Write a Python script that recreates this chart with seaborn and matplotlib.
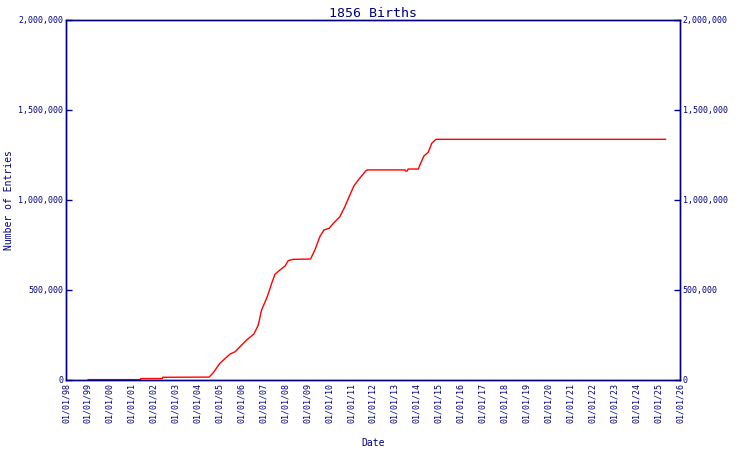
import pandas as pd
import matplotlib
matplotlib.use("Agg")
import matplotlib.pyplot as plt
import matplotlib.dates as mdates
import matplotlib.ticker as mticker
import seaborn as sns

# cumulative entries
dates = [
    "1999-01-01", "2001-05-25", "2001-06-01", "2002-05-25", "2002-06-01",
    "2004-07-12", "2004-09-20", "2005-01-08", "2005-06-25", "2005-09-17",
    "2006-03-28", "2006-07-27", "2006-10-08", "2006-12-02", "2007-03-08",
    "2007-05-20", "2007-07-13", "2007-10-05", "2007-12-28", "2008-02-20",
    "2008-05-05", "2009-02-25", "2009-05-08", "2009-07-30", "2009-10-05",
    "2010-01-01", "2010-03-12", "2010-06-28", "2010-09-20", "2010-12-12",
    "2011-02-17", "2011-05-01", "2011-09-06", "2011-10-01", "2013-06-18",
    "2013-06-25", "2013-07-25", "2013-08-08", "2014-01-26", "2014-02-20",
    "2014-04-27", "2014-07-09", "2014-09-06", "2014-11-14", "2025-05-08",
]
entries = [
    2000, 2000, 8000, 8000, 15000,
    16000, 41000, 93000, 144000, 157000,
    222000, 255000, 305000, 389000, 463000,
    537000, 587000, 611000, 633000, 663000,
    670000, 672000, 722000, 796000, 833000,
    843000, 870000, 907000, 963000, 1028000,
    1078000, 1111000, 1163000, 1167000, 1167000,
    1161000, 1161000, 1172000, 1172000, 1194000,
    1244000, 1265000, 1315000, 1337000, 1337000,
]
y_ticks = [0, 500000, 1000000, 1500000, 2000000]
tick_years = list(range(1998, 2027))

NAVY = "#000080"
FONT = "DejaVu Sans Mono"

df = pd.DataFrame({"date": pd.to_datetime(dates), "entries": entries})

sns.set_style("white")
plt.rcParams["font.family"] = [FONT]

fig = plt.figure(figsize=(7.5, 4.5), dpi=100)
ax = fig.add_axes([0.088, 0.1556, 0.8187, 0.8])

sns.lineplot(data=df, x="date", y="entries", ax=ax, color="#ff0000", linewidth=1)

ax.set_xlim(pd.Timestamp("1998-01-01"), pd.Timestamp("2026-01-01"))
ax.set_ylim(0, 2000000)
ax.set_xticks([pd.Timestamp(f"{y}-01-01") for y in tick_years])
ax.xaxis.set_major_formatter(mdates.DateFormatter("%m/%d/%y"))
ax.set_yticks(y_ticks)
ax.yaxis.set_major_formatter(mticker.FuncFormatter(lambda v, p: f"{int(v):,}"))

ax2 = ax.twinx()
ax2.set_ylim(ax.get_ylim())
ax2.set_yticks(y_ticks)
ax2.yaxis.set_major_formatter(mticker.FuncFormatter(lambda v, p: f"{int(v):,}"))

for a in (ax, ax2):
    for s in a.spines.values():
        s.set_color(NAVY)
        s.set_linewidth(1)
    a.tick_params(axis="both", direction="in", length=4, width=1, colors=NAVY,
                  labelsize=6, pad=2)

for lbl in ax.get_xticklabels():
    lbl.set_rotation(90)

ax.set_xlabel("Date", color=NAVY, fontsize=7, labelpad=11)
ax.set_ylabel("Number of Entries", color=NAVY, fontsize=7, labelpad=3)
ax2.set_ylabel("")
ax.set_title("1856 Births", color=NAVY, fontsize=9.5, pad=1)

plt.savefig("out.png", dpi=100)
